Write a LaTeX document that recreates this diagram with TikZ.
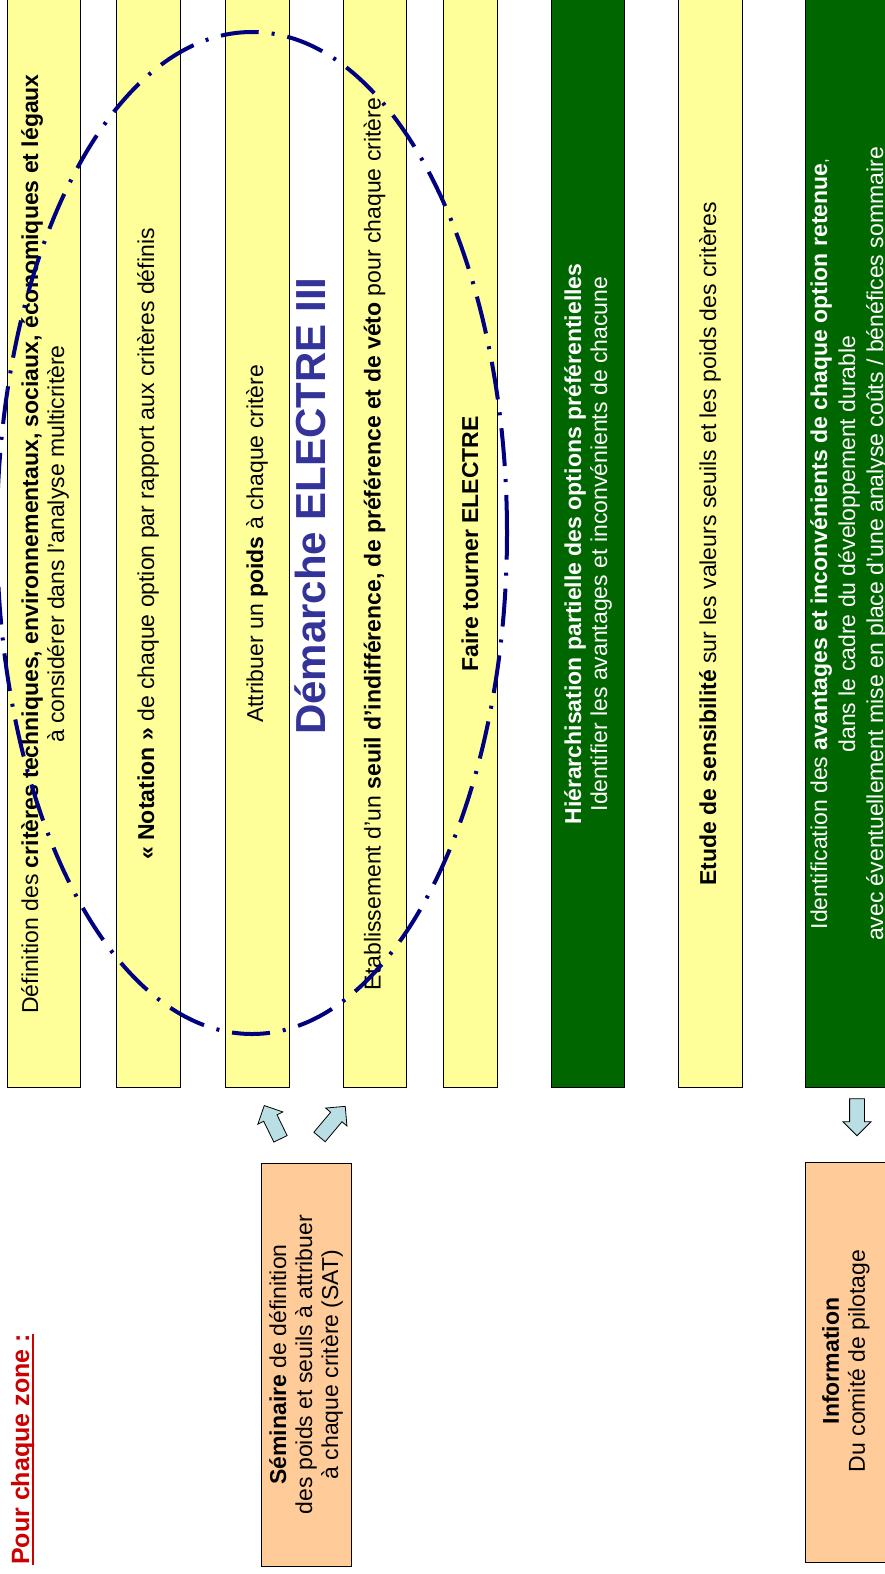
\documentclass[tikz,border=0pt]{standalone}
\usepackage{fontspec}
\setmainfont{Liberation Sans}
\usetikzlibrary{shapes.arrows}
\definecolor{paleyellow}{HTML}{FFFF99}
\definecolor{darkgreen}{HTML}{006600}
\definecolor{peach}{HTML}{FFCC99}
\definecolor{ovalnavy}{HTML}{000080}
\definecolor{titleblue}{HTML}{333399}
\definecolor{arrowblue}{HTML}{B9DFE4}
\definecolor{titlered}{HTML}{CC0000}

\begin{document}
\begin{tikzpicture}[x=1pt,y=1pt,
  colbox/.style={draw=black, line width=1pt, minimum height=1110pt, anchor=south, inner sep=0pt},
  ybox/.style={colbox, fill=paleyellow},
  gbox/.style={colbox, fill=darkgreen},
  sidebox/.style={draw=black, line width=1pt, fill=peach, inner sep=0pt},
  steptext/.style={rotate=90, align=center, inner sep=0pt, font=\fontsize{23}{26}\selectfont},
  whitetext/.style={steptext, text=white},
  blockarrow/.style={single arrow, draw=black, line width=0.8pt, fill=arrowblue,
    inner sep=7pt, minimum width=27pt, single arrow head extend=6.5pt,
    single arrow head indent=0pt}
]
\useasboundingbox (0,0) rectangle (885,-1574);

% heading
\node[rotate=90, anchor=base west, inner sep=0pt, text=titlered,
  font=\fontsize{25}{30}\selectfont\bfseries] (heading) at (29,-1565) {Pour chaque zone :};
\draw[titlered, line width=2pt] ([xshift=4pt]heading.base west) -- ([xshift=4pt]heading.base east);

% process columns
\node[ybox, minimum width=73pt] (b1) at (43.5,-1088) {};
\node[ybox, minimum width=64pt] (b2) at (148,-1088) {};
\node[ybox, minimum width=64pt] (b3) at (257,-1088) {};
\node[ybox, minimum width=63pt] (b4) at (374.5,-1088) {};
\node[ybox, minimum width=54pt] (b5) at (470,-1088) {};
\node[gbox, minimum width=73pt] (g1) at (587.5,-1088) {};
\node[ybox, minimum width=64pt] (b6) at (710,-1088) {};
\node[gbox, minimum width=82pt] (g2) at (846,-1088) {};

\node[steptext] (t1) at (45,-544) {D\'efinition des \textbf{crit\`eres techniques, environnementaux, sociaux, \'economiques et l\'egaux}\\ \`a consid\'erer dans l’analyse multicrit\`ere};
\node[steptext] (t2) at (148,-544) {\textbf{«~Notation~»} de chaque option par rapport aux crit\`eres d\'efinis};
\node[steptext] (t3) at (257,-544) {Attribuer un \textbf{poids} \`a chaque crit\`ere};
\node[steptext] (t4) at (374.5,-544) {Etablissement d’un \textbf{seuil d’indiff\'erence, de pr\'ef\'erence et de v\'eto} pour chaque crit\`ere};
\node[steptext] (t5) at (470,-544) {\textbf{Faire tourner ELECTRE}};
\node[whitetext] (t6) at (588,-544) {\textbf{Hi\'erarchisation partielle des options pr\'ef\'erentielles}\\Identifier les avantages et inconv\'enients de chacune};
\node[steptext] (t7) at (710,-544) {\textbf{Etude de sensibilit\'e} sur les valeurs seuils et les poids des crit\`eres};
\node[whitetext, font=\fontsize{23}{28}\selectfont] (t8) at (849,-544) {Identification des \textbf{avantages et inconv\'enients de chaque option retenue}{\fontsize{17}{20}\selectfont ,}\\dans le cadre du d\'eveloppement durable\\avec \'eventuellement mise en place d’une analyse co\^uts / b\'en\'efices sommaire};

% method title
\node[rotate=90, anchor=base west, inner sep=0pt, text=titleblue,
  font=\fontsize{42}{50}\selectfont\bfseries] (method) at (325,-735) {D\'emarche ELECTRE III};

% side boxes
\node[sidebox, minimum width=90pt, minimum height=403pt] (sem) at (306,-1364.5) {};
\node[steptext] (semtext) at (306,-1364.5) {\textbf{S\'eminaire} de d\'efinition\\des poids et seuils \`a attribuer\\\`a chaque crit\`ere (SAT)};
\node[sidebox, minimum width=80pt, minimum height=400pt, anchor=north west] (info) at (805,-1162) {};
\node[steptext] (infotext) at (846,-1361) {\textbf{Information}\\Du comit\'e de pilotage};

% block arrows
\node[blockarrow, minimum height=37pt, rotate=116] (a1) at (274,-1125.5) {};
\node[blockarrow, minimum height=40pt, rotate=50] (a2) at (330,-1124.5) {};
\node[blockarrow, minimum height=37pt, rotate=-90] (a3) at (857,-1113.5) {};

% dash-dotted oval around the ELECTRE steps
\draw[ovalnavy, line width=4pt, dash pattern=on 38pt off 13pt on 3pt off 13pt]
  (252,-533) ellipse [x radius=255, y radius=501];
\end{tikzpicture}
\end{document}
